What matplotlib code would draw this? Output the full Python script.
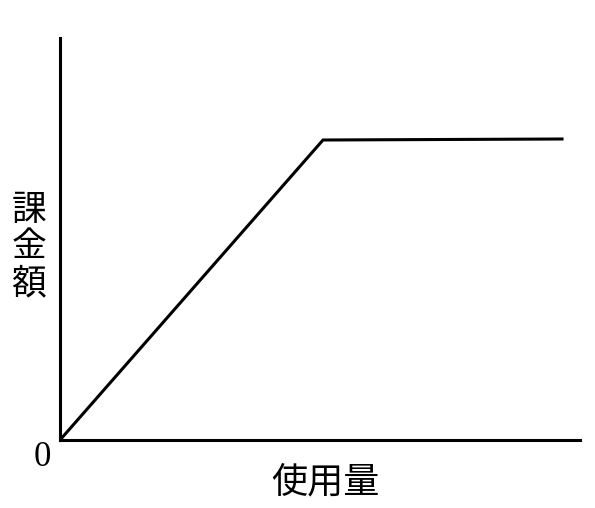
import matplotlib.pyplot as plt

# 使用量 vs 課金額 (arbitrary units)
usage = [0, 263, 502]
charge = [0, 300, 301]

plt.rcParams['font.family'] = ['Noto Sans CJK JP', 'DejaVu Sans']

W, H = 595, 508
fig = plt.figure(figsize=(W / 100, H / 100), dpi=100)
# axes box in pixels: left 60, right 580, bottom 440, top 38
ax = fig.add_axes([60 / W, 1 - 440 / H, 520 / W, 402 / H])
ax.set_xlim(0, 520)
ax.set_ylim(0, 402)

ax.plot(usage, charge, color='black', lw=2.2, solid_joinstyle='miter')

for s in ['top', 'right']:
    ax.spines[s].set_visible(False)
for s in ['left', 'bottom']:
    ax.spines[s].set_linewidth(2.2)
ax.set_xticks([])
ax.set_yticks([])

fig.text(42 / W, 1 - 458 / H, '0', family='Liberation Serif', fontsize=25,
         ha='center', va='center')
fig.text(325 / W, 1 - 482 / H, '使用量', fontsize=26, ha='center', va='center')
fig.text(29 / W, 1 - 247 / H, '課\n金\n額', fontsize=25, ha='center',
         va='center', linespacing=1.05)

fig.savefig('out.png', dpi=100)
